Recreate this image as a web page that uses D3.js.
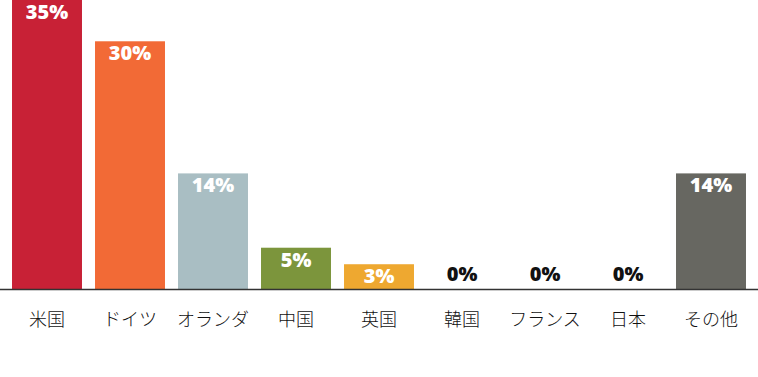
<!DOCTYPE html>
<html>
<head>
<meta charset="utf-8">
<script src="https://cdn.jsdelivr.net/npm/d3@7/dist/d3.min.js"></script>
<style>
  html, body { margin: 0; padding: 0; background: #fff; }
  svg { display: block; }
</style>
</head>
<body>
<svg id="chart"></svg>
<script>
// Share by country (percent)
const countries = ['米国', 'ドイツ', 'オランダ', '中国', '英国', '韓国', 'フランス', '日本', 'その他'];
const shares = [35, 30, 14, 5, 3, 0, 0, 0, 14];
const barColors = ['#c82136', '#f26a36', '#a9bec3', '#7c953c', '#eea830', '#999', '#999', '#999', '#676761'];

const width = 758;
const height = 377;
const baseline = 289;

const svg = d3.select('#chart')
  .attr('width', width)
  .attr('height', height);

// x: one band per country
const x = d3.scaleBand()
  .domain(countries)
  .range([5.5, 752.5])
  .paddingInner(0.157)
  .paddingOuter(0.0785);

// y: top bar (35%) reaches the top edge
const y = d3.scaleLinear()
  .domain([0, 35])
  .range([baseline, 0]);

const data = countries.map((c, i) => ({ country: c, value: shares[i], color: barColors[i] }));

// Bars
svg.append('g')
  .selectAll('rect')
  .data(data.filter(d => d.value > 0))
  .join('rect')
  .attr('x', d => x(d.country))
  .attr('y', d => y(d.value))
  .attr('width', x.bandwidth())
  .attr('height', d => baseline - y(d.value))
  .attr('fill', d => d.color);

// Value labels: white inside the bar, black above the axis for zero
svg.append('g')
  .selectAll('text')
  .data(data)
  .join('text')
  .attr('x', d => x(d.country) + x.bandwidth() / 2)
  .attr('y', d => d.value > 0 ? y(d.value) + 19 : baseline - 8)
  .attr('text-anchor', 'middle')
  .attr('font-family', '"Open Sans", "DejaVu Sans", sans-serif')
  .attr('font-weight', 800)
  .attr('font-size', 20)
  .attr('fill', d => d.value > 0 ? '#fff' : '#111')
  .text(d => d.value + '%');

// Axis line
svg.append('line')
  .attr('x1', 0)
  .attr('x2', width)
  .attr('y1', baseline + 0.5)
  .attr('y2', baseline + 0.5)
  .attr('stroke', '#333')
  .attr('stroke-width', 1.5);

// Category labels
const xAxis = svg.append('g')
  .attr('transform', `translate(0,${baseline})`)
  .call(d3.axisBottom(x).tickSize(0).tickPadding(24));

xAxis.select('.domain').remove();
xAxis.selectAll('text')
  .attr('font-family', '"Noto Sans CJK JP", sans-serif')
  .attr('font-weight', 300)
  .attr('font-size', 18)
  .attr('fill', '#111');
</script>
</body>
</html>
